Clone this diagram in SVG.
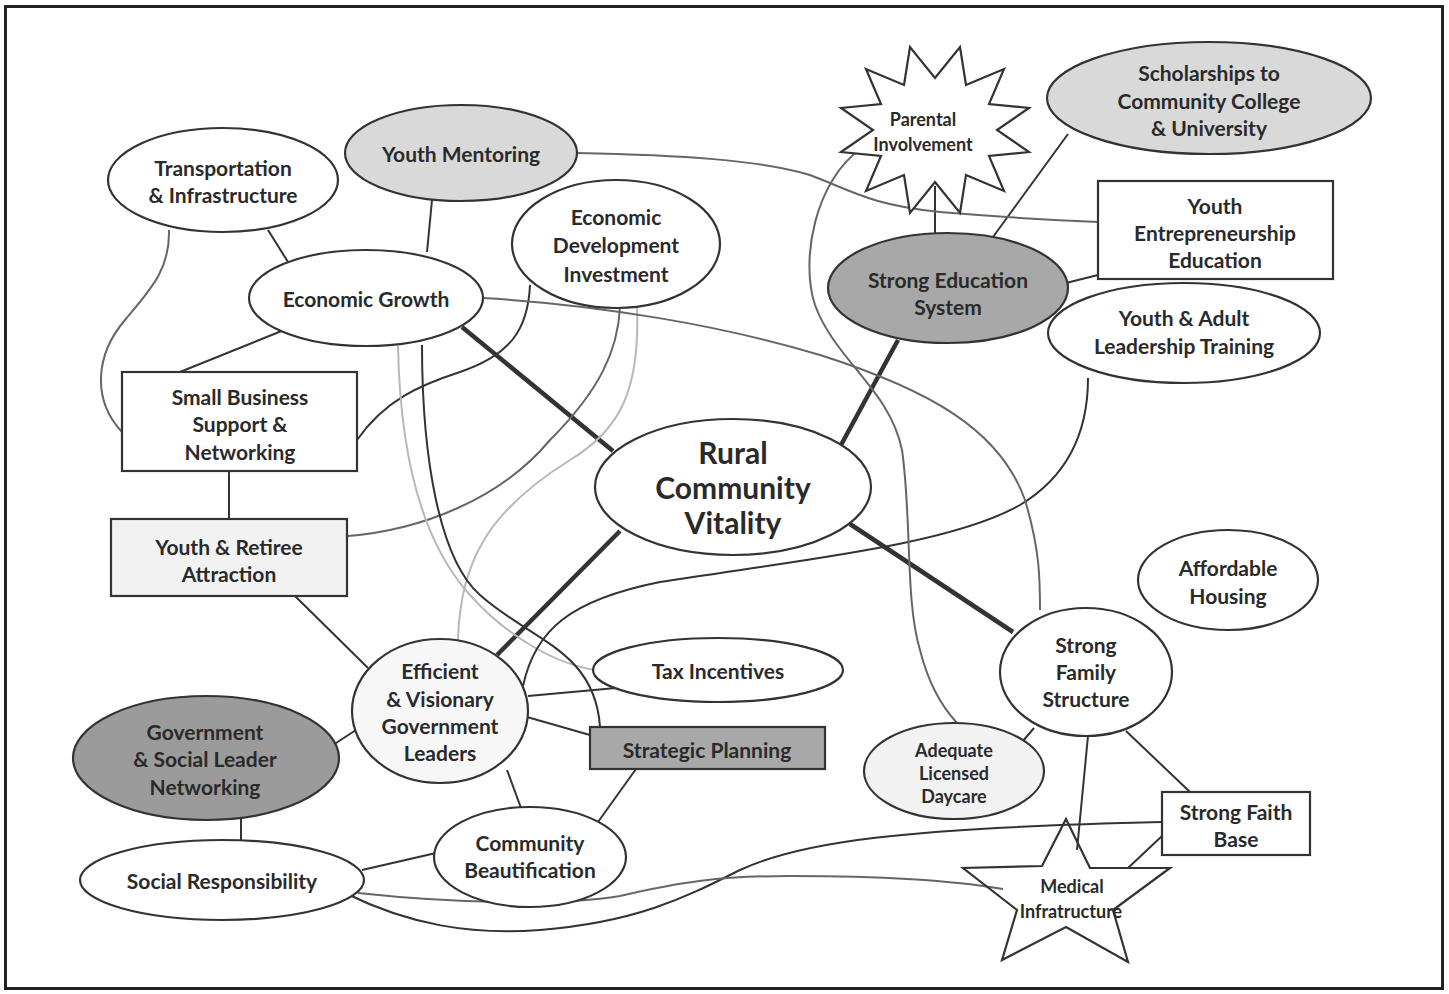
<svg xmlns="http://www.w3.org/2000/svg" width="1449" height="994" viewBox="0 0 1449 994">
<style>
.n{fill:#fff;stroke:#333;stroke-width:2.2}
.f1{fill:#d9d9d9}
.f2{fill:#a8a8a8}
.f3{fill:#9b9b9b}
.f0{fill:#f2f2f2}
.t{font-family:Lato,"Noto Sans",sans-serif;font-weight:700;font-size:21px;fill:#2a2a2a;text-anchor:middle;dominant-baseline:central}
.s{font-size:18px}
.big{font-size:30px}
.c{fill:none;stroke:#333;stroke-width:2}
.k{stroke-width:4.5}
.m{stroke:#666}
.l{stroke:#b8b8b8}
</style>
<rect x="0" y="0" width="1449" height="994" fill="#fff"/>
<rect x="5.5" y="6.5" width="1437" height="982" fill="none" stroke="#222" stroke-width="3"/>
<g id="connectors">
<line class="c k" x1="462" y1="327" x2="613" y2="451"/>
<line class="c k" x1="841" y1="445" x2="898" y2="340"/>
<line class="c k" x1="620" y1="531" x2="497" y2="655"/>
<line class="c k" x1="850" y1="524" x2="1013" y2="632"/>
<line class="c" x1="268" y1="230" x2="288" y2="262"/>
<line class="c" x1="432" y1="200" x2="427" y2="252"/>
<line class="c" x1="289" y1="328" x2="180" y2="372"/>
<line class="c" x1="229" y1="471" x2="229" y2="519"/>
<line class="c" x1="295" y1="596" x2="368" y2="668"/>
<line class="c" x1="333" y1="745" x2="356" y2="730"/>
<line class="c" x1="241" y1="819" x2="241" y2="842"/>
<line class="c" x1="362" y1="870" x2="436" y2="853"/>
<line class="c" x1="507" y1="770" x2="521" y2="808"/>
<line class="c" x1="636" y1="769" x2="598" y2="822"/>
<line class="c" x1="527" y1="717" x2="590" y2="735"/>
<line class="c" x1="528" y1="696" x2="616" y2="688"/>
<line class="c" x1="935" y1="186" x2="935" y2="234"/>
<line class="c" x1="993" y1="237" x2="1068" y2="134"/>
<line class="c" x1="1066" y1="283" x2="1098" y2="275"/>
<line class="c" x1="1034" y1="728" x2="1022" y2="742"/>
<line class="c" x1="1088" y1="736" x2="1077" y2="850"/>
<line class="c" x1="1126" y1="731" x2="1190" y2="792"/>
<line class="c" x1="1162" y1="836" x2="1128" y2="868"/>
<path class="c m" d="M169,230 C170,270 150,290 125,320 C95,355 92,400 122,432"/>
<path class="c" d="M357,440 C385,400 420,385 460,372 C510,355 528,330 530,285"/>
<path class="c m" d="M348,536 C420,530 500,500 550,440 C600,390 618,350 620,307"/>
<path class="c l" d="M637,308 C640,390 620,430 570,460 C490,510 460,560 458,640"/>
<path class="c l" d="M398,346 C400,450 420,540 470,595 C510,640 560,665 596,670"/>
<path class="c" d="M422,345 C422,460 440,560 480,595 C530,640 595,650 600,727"/>
<path class="c" d="M523,686 C535,630 570,600 660,582 C800,560 950,545 1020,505 C1070,475 1088,430 1088,378"/>
<path class="c m" d="M483,298 C600,305 720,325 820,355 C930,390 1000,430 1025,500 C1040,550 1040,580 1040,610"/>
<path class="c m" d="M862,148 C815,180 800,260 815,305 C835,360 890,390 902,450 C912,520 905,600 920,650 C930,690 945,710 957,723"/>
<path class="c m" d="M577,153 C680,155 760,160 810,175 C850,190 870,205 940,212 C1000,217 1050,220 1098,222"/>
<path class="c" d="M345,893 C410,925 470,935 540,930 C640,922 690,895 740,870 C800,842 900,828 1162,822"/>
<path class="c m" d="M358,893 C450,903 560,906 620,896 C680,882 720,876 790,876 C880,876 950,880 1003,889"/>
</g>
<g id="transportation">
<ellipse class="n" cx="223" cy="180" rx="115" ry="52"/>
<text class="t" x="223" y="167">Transportation</text>
<text class="t" x="223" y="194">&amp; Infrastructure</text>
</g>
<g id="youth-mentoring">
<ellipse class="n f1" cx="461" cy="153" rx="116" ry="48"/>
<text class="t" x="461" y="153">Youth Mentoring</text>
</g>
<g id="econ-dev">
<ellipse class="n" cx="616" cy="244" rx="104" ry="64"/>
<text class="t" x="616" y="216">Economic</text>
<text class="t" x="616" y="244">Development</text>
<text class="t" x="616" y="273">Investment</text>
</g>
<g id="econ-growth">
<ellipse class="n" cx="366" cy="298" rx="117" ry="48"/>
<text class="t" x="366" y="298">Economic Growth</text>
</g>
<g id="small-business">
<rect class="n" x="122" y="372" width="235" height="99"/>
<text class="t" x="240" y="396">Small Business</text>
<text class="t" x="240" y="423">Support &amp;</text>
<text class="t" x="240" y="451">Networking</text>
</g>
<g id="youth-retiree">
<rect class="n f0" x="111" y="519" width="236" height="77"/>
<text class="t" x="229" y="546">Youth &amp; Retiree</text>
<text class="t" x="229" y="573">Attraction</text>
</g>
<g id="rcv">
<ellipse class="n" cx="733" cy="487" rx="138" ry="68"/>
<text class="t big" x="733" y="452">Rural</text>
<text class="t big" x="733" y="487">Community</text>
<text class="t big" x="733" y="522">Vitality</text>
</g>
<g id="parental">
<polygon class="n" points="960,47 966,85 1004,69 989,104 1029,108 997,130 1029,152 989,156 1004,191 966,175 960,213 935,182 910,213 904,175 866,191 881,156 841,152 873,130 841,108 881,104 866,69 904,85 910,47 935,78"/>
<text class="t s" x="923" y="119">Parental</text>
<text class="t s" x="923" y="144">Involvement</text>
</g>
<g id="scholarships">
<ellipse class="n f1" cx="1209" cy="98" rx="162" ry="56"/>
<text class="t" x="1209" y="72">Scholarships to</text>
<text class="t" x="1209" y="100">Community College</text>
<text class="t" x="1209" y="127">&amp; University</text>
</g>
<g id="youth-entrepreneurship">
<rect class="n" x="1098" y="181" width="235" height="98"/>
<text class="t" x="1215" y="205">Youth</text>
<text class="t" x="1215" y="232">Entrepreneurship</text>
<text class="t" x="1215" y="259">Education</text>
</g>
<g id="strong-education">
<ellipse class="n f2" cx="948" cy="288" rx="120" ry="55"/>
<text class="t" x="948" y="279">Strong Education</text>
<text class="t" x="948" y="306">System</text>
</g>
<g id="leadership">
<ellipse class="n" cx="1184" cy="333" rx="136" ry="50"/>
<text class="t" x="1184" y="317">Youth &amp; Adult</text>
<text class="t" x="1184" y="345">Leadership Training</text>
</g>
<g id="affordable-housing">
<ellipse class="n" cx="1228" cy="580" rx="90" ry="50"/>
<text class="t" x="1228" y="567">Affordable</text>
<text class="t" x="1228" y="595">Housing</text>
</g>
<g id="strong-family">
<ellipse class="n" cx="1086" cy="672" rx="86" ry="64"/>
<text class="t" x="1086" y="644">Strong</text>
<text class="t" x="1086" y="671">Family</text>
<text class="t" x="1086" y="698">Structure</text>
</g>
<g id="daycare">
<ellipse class="n f0" cx="954" cy="771" rx="90" ry="48"/>
<text class="t s" x="954" y="750">Adequate</text>
<text class="t s" x="954" y="773">Licensed</text>
<text class="t s" x="954" y="796">Daycare</text>
</g>
<g id="faith">
<rect class="n" x="1162" y="792" width="148" height="63"/>
<text class="t" x="1236" y="811">Strong Faith</text>
<text class="t" x="1236" y="838">Base</text>
</g>
<g id="medical">
<polygon class="n" style="fill:none" points="1066,819 1090,868 1170,868 1113,910 1128,962 1066,927 1002,960 1017,910 963,868 1042,866"/>
<text class="t s" x="1072" y="886">Medical</text>
<text class="t s" x="1071" y="911">Infratructure</text>
</g>
<g id="tax">
<ellipse class="n" cx="718" cy="670" rx="125" ry="32"/>
<text class="t" x="718" y="670">Tax Incentives</text>
</g>
<g id="efficient">
<ellipse class="n" style="fill:#f7f7f7" cx="440" cy="711" rx="88" ry="72"/>
<text class="t" x="440" y="670">Efficient</text>
<text class="t" x="440" y="698">&amp; Visionary</text>
<text class="t" x="440" y="725">Government</text>
<text class="t" x="440" y="752">Leaders</text>
</g>
<g id="strategic">
<rect class="n f2" x="590" y="727" width="235" height="42"/>
<text class="t" x="707" y="749">Strategic Planning</text>
</g>
<g id="gov-network">
<ellipse class="n f3" cx="206" cy="758" rx="133" ry="62"/>
<text class="t" x="205" y="731">Government</text>
<text class="t" x="205" y="758">&amp; Social Leader</text>
<text class="t" x="205" y="786">Networking</text>
</g>
<g id="social">
<ellipse class="n" cx="222" cy="880" rx="142" ry="40"/>
<text class="t" x="222" y="880">Social Responsibility</text>
</g>
<g id="beautification">
<ellipse class="n" cx="530" cy="857" rx="96" ry="50"/>
<text class="t" x="530" y="842">Community</text>
<text class="t" x="530" y="869">Beautification</text>
</g>
</svg>
